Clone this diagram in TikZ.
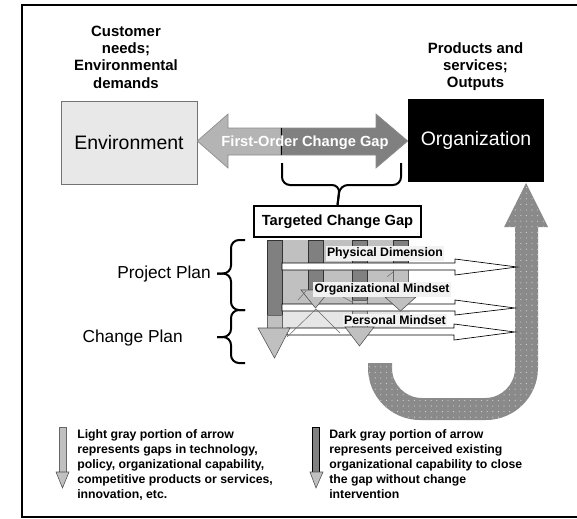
\documentclass[tikz,border=0pt]{standalone}
\usepackage{fontspec}
\setmainfont{Liberation Sans}
\usetikzlibrary{patterns}
\pgfdeclarepatternformonly{sparsedots}{\pgfqpoint{-1pt}{-1pt}}{\pgfqpoint{1pt}{1pt}}{\pgfqpoint{4.2pt}{4.2pt}}{\pgfpathcircle{\pgfqpoint{0pt}{0pt}}{0.42pt}\pgfusepath{fill}}
\definecolor{dgray}{HTML}{808080}
\definecolor{lgray}{HTML}{C0C0C0}
\definecolor{pgray}{HTML}{E6E6E6}
\definecolor{envfill}{HTML}{E8E8E8}
\definecolor{ugray}{HTML}{8A8A8A}
\definecolor{lblfill}{HTML}{F2F2F2}
\definecolor{arrlight}{HTML}{B4B4B4}
\definecolor{dotcol}{HTML}{D8D8D8}
\begin{document}
\begin{tikzpicture}[x=0.75pt,y=-0.75pt,
  toplbl/.style={font=\fontsize{11.2}{13}\selectfont\bfseries, align=center, inner sep=0pt},
  darkbar/.style={fill=dgray, draw=black!80, line width=0.4pt},
  lightbar/.style={fill=lgray, draw=black!60, line width=0.4pt},
  headtri/.style={fill=lgray, draw=black!70, line width=0.4pt},
  warrow/.style={fill=white, draw=black, line width=0.5pt},
  band/.style={fill=lgray},
  paleband/.style={fill=pgray},
  lbl/.style={fill=lblfill, inner sep=1pt, font=\fontsize{9.2}{11}\selectfont\bfseries},
  ghost/.style={draw=black!60, line width=0.35pt},
  bracestyle/.style={draw=black, line width=1.5pt, rounded corners=6pt},
  legendtxt/.style={font=\fontsize{9.2}{11.25}\selectfont\bfseries, align=left, inner sep=0pt},
  plantxt/.style={font=\fontsize{13}{15}\selectfont, inner sep=0pt, anchor=east}
]
\useasboundingbox (0,0) rectangle (577,518);
% frame
\draw[line width=1.7pt] (578,5) -- (22,5) -- (22,517) -- (578,517);

% U arrow
\path[fill=ugray, postaction={pattern=sparsedots, pattern color=dotcol}]
  (368,363) -- (368,368) .. controls (368,396.7) and (391.3,420) .. (420,420)
  -- (486,420) .. controls (514.7,420) and (538,396.7) .. (538,368)
  -- (538,227) -- (548,227) -- (526,183) -- (504,227) -- (515,227)
  -- (515,368) .. controls (515,384.6) and (501.6,398) .. (485,398)
  -- (422,398) .. controls (405.4,398) and (392,384.6) .. (392,368)
  -- (392,363) -- cycle;

% bands
\path[band] (282,240) rectangle (408,263);
\path[band] (282,270) rectangle (408,304);
\path[paleband] (282,311) rectangle (410,328);

% vertical bars
\path[darkbar] (267,240) rectangle (282,315);
\path[lightbar] (267,315) rectangle (282,328);
\path[darkbar] (308,240) rectangle (323,290);
\path[darkbar] (352,240) rectangle (367,300);
\path[lightbar] (352,300) rectangle (367,327);
\path[darkbar] (393,240) rectangle (408,266);
\path[lightbar] (393,266) rectangle (408,297);

% white horizontal arrows
\path[warrow] (282,263) -- (455,263) -- (455,259) -- (517,267) -- (455,275) -- (455,270) -- (282,270) -- cycle;
\path[warrow] (282,304) -- (455,304) -- (455,300) -- (515,308) -- (455,315) -- (455,311) -- (282,311) -- cycle;
\path[warrow] (287,328) -- (454,328) -- (454,324) -- (515,332) -- (454,340) -- (454,335) -- (287,335) -- cycle;

% arrow heads
\path[headtri] (258,328) -- (290,328) -- (274.5,358) -- cycle;
\path[headtri] (301,290) -- (330,290) -- (315.5,308) -- cycle;
\path[headtri] (345,327) -- (374,327) -- (359.5,346) -- cycle;
\path[headtri] (385,297) -- (416,297) -- (400.5,311) -- cycle;

% ghost outlines
\path[ghost] (298,300) -- (306,291);
\path[ghost] (316,309) -- (287,337);
\path[ghost] (316,309) -- (340,333);
\path[ghost] (387,277) -- (393,272);
\path[ghost] (343,297) -- (352,302);

% band labels
\node[lbl] (phys) at (385,253.5) {Physical Dimension};
\node[lbl] (orgm) at (382,289.5) {Organizational Mindset};
\node[lbl] (pers) at (395,320) {Personal Mindset};

% targeted change gap
\node[draw=black, line width=1.5pt, fill=white, minimum width=125pt, minimum height=23.5pt,
      inner sep=0pt, font=\fontsize{11}{13}\selectfont\bfseries] (tcg) at (337.5,221.5) {Targeted Change Gap};

% top brace
\draw[bracestyle] (282,163) -- (282,185) -- (340,185) -- (tcg.north);
\draw[bracestyle] (401,163) -- (401,185) -- (340,185) -- (tcg.north);

% boxes
\node[draw=black!55, fill=envfill, minimum width=102pt, minimum height=62.25pt, inner sep=0pt,
      font=\fontsize{14.6}{16}\selectfont] (env) at (129,142.5) {Environment};
\node[fill=black, text=white, minimum width=102pt, minimum height=62.25pt, inner sep=0pt,
      font=\fontsize{14.6}{16}\selectfont] (org) at (476,140.5) {Organization};

% double arrow
\path[fill=arrlight, draw=black!45, line width=0.5pt] (env.east |- 0,141) -- (228,114) -- (228,128) -- (281,128) -- (281,155) -- (228,155) -- (228,168) -- cycle;
\path[fill=dgray, draw=black!45, line width=0.5pt] (281,128) -- (376,128) -- (376,114) -- (org.west |- 0,141) -- (376,168) -- (376,155) -- (281,155) -- cycle;
\draw[black, line width=0.5pt] (281,128) -- (281,155);
\node[text=white, font=\fontsize{11}{13}\selectfont\bfseries, inner sep=0pt] (focg) at (305,142.5) {First-Order Change Gap};

% top labels
\node[toplbl] (cust) at (126,57) {Customer\\needs;\\Environmental\\demands};
\node[toplbl] (prod) at (475.5,66.5) {Products and\\services;\\Outputs};

% left braces
\draw[bracestyle] (245,240) -- (231,240) -- (231,273.5) -- (217,273.5);
\draw[bracestyle] (245,310) -- (231,310) -- (231,273.5) -- (217,273.5);
\draw[bracestyle] (245,310) -- (231,310) -- (231,337) -- (217,337);
\draw[bracestyle] (245,363) -- (231,363) -- (231,337) -- (217,337);
\node[plantxt] (pplan) at (211,274.5) {Project Plan};
\node[plantxt] (cplan) at (183,338.5) {Change Plan};

% legend arrows
\path[lightbar] (59,427) rectangle (66,472);
\path[headtri] (56,472) -- (69,472) -- (62.5,488) -- cycle;
\path[darkbar, draw=black] (312.5,427) rectangle (319.5,472);
\path[headtri] (310,472) -- (323,472) -- (316,488) -- cycle;

% legend text
\node[legendtxt, anchor=north west] (leg1) at (77,429.5) {Light gray portion of arrow\\represents gaps in technology,\\policy, organizational capability,\\competitive products or services,\\innovation, etc.};
\node[legendtxt, anchor=north west] (leg2) at (329,429.5) {Dark gray portion of arrow\\represents perceived existing\\organizational capability to close\\the gap without change\\intervention};
\end{tikzpicture}
\end{document}
